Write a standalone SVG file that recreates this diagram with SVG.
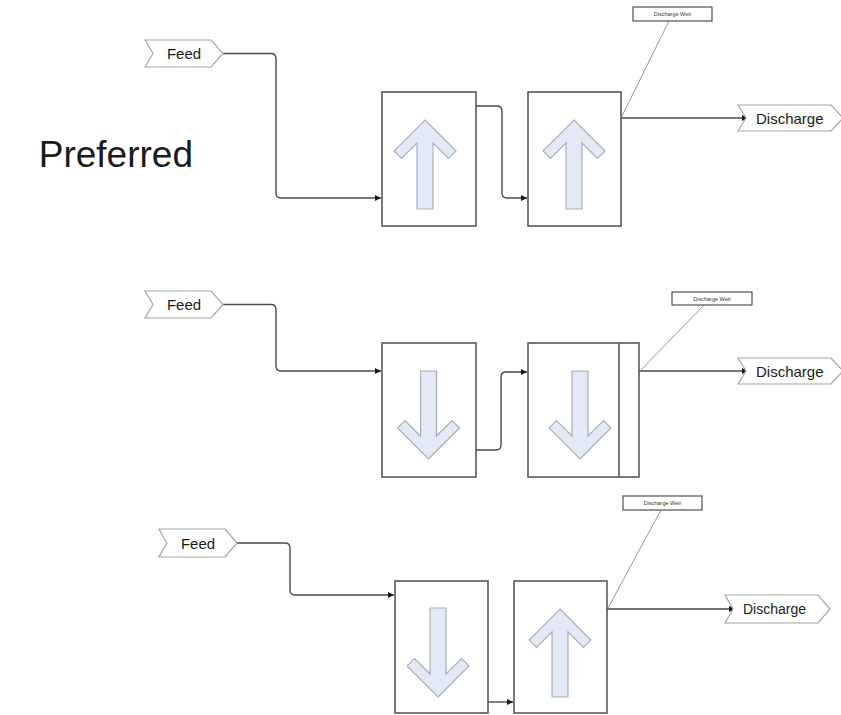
<svg xmlns="http://www.w3.org/2000/svg" width="841" height="715" viewBox="0 0 841 715">
<style>
.bg{fill:#ffffff}
.box{fill:#ffffff;stroke:#595959;stroke-width:1.6}
.blk{fill:#e4eaf5;stroke:#a9afba;stroke-width:1.2;stroke-linejoin:miter}
.chev{fill:#ffffff;stroke:#a6a6a6;stroke-width:1.2}
.con{fill:none;stroke:#4a4a4a;stroke-width:1.4}
.lead{fill:none;stroke:#8a8a8a;stroke-width:0.9}
.wbox{fill:#ffffff;stroke:#404040;stroke-width:1.1}
.t{font-family:"Liberation Sans",Arial,sans-serif;fill:#1a1a1a}
.lbl{font-size:15px}
.wt{font-size:5.5px;text-anchor:middle;fill:#333}
</style>
<defs>
<marker id="ah" markerWidth="8" markerHeight="8" refX="7" refY="4" orient="auto" markerUnits="userSpaceOnUse">
<path d="M1,1 L7,4 L1,7 Z" fill="#1a1a1a"/>
</marker>
</defs>
<rect class="bg" x="0" y="0" width="841" height="715"/>

<text id="title" class="t" x="193" y="167" font-size="37" text-anchor="end">Preferred</text>

<g id="connectors">
<path class="con" d="M223,53.5 H271 q5,0 5,5 V193 q0,5 5,5 H381" marker-end="url(#ah)"/>
<path class="con" d="M476,106 H497 q5,0 5,5 V193 q0,5 5,5 H527" marker-end="url(#ah)"/>
<path class="con" d="M621,118 H748" marker-end="url(#ah)"/>
<path class="lead" d="M669,21 L621,118"/>

<path class="con" d="M223,304.5 H271 q5,0 5,5 V366 q0,5 5,5 H381" marker-end="url(#ah)"/>
<path class="con" d="M476,450 H496 q5,0 5,-5 V377 q0,-5 5,-5 H527" marker-end="url(#ah)"/>
<path class="con" d="M619,463 H623 q5,0 5,-5 V376 q0,-5 5,-5 H748" marker-end="url(#ah)"/>
<path class="lead" d="M704,305 L640,371"/>

<path class="con" d="M237,543 H285 q5,0 5,5 V590 q0,5 5,5 H394" marker-end="url(#ah)"/>
<path class="con" d="M488,702 H513" marker-end="url(#ah)"/>
<path class="con" d="M607,609 H735" marker-end="url(#ah)"/>
<path class="lead" d="M661,510 L608,608"/>
</g>

<!-- Row 1 -->
<g id="feed1">
<path class="chev" d="M145,40 H211 L223,53.5 L211,67 H145 L153,53.5 Z"/>
<text class="t lbl" x="184" y="59" text-anchor="middle">Feed</text>
</g>
<g id="tank1a">
<rect class="box" x="382" y="92" width="94" height="134"/>
<path class="blk" d="M425,120 L456,151 L448.5,158.5 L433,143 V209 H417 V143 L401.5,158.5 L394,151 Z"/>
</g>
<g id="tank1b">
<rect class="box" x="528" y="92" width="93" height="134"/>
<path class="blk" d="M574,120 L605,151 L597.5,158.5 L582,143 V209 H566 V143 L550.5,158.5 L543,151 Z"/>
</g>
<g id="weir1">
<rect class="wbox" x="633" y="7" width="79" height="14"/>
<text class="t wt" x="672.5" y="16">Discharge Weir</text>
</g>
<g id="discharge1">
<path class="chev" d="M738,105 H831 L843,118 L831,131 H738 L746,118 Z"/>
<text class="t lbl" x="756" y="123.5">Discharge</text>
</g>

<!-- Row 2 -->
<g id="feed2">
<path class="chev" d="M145,291 H211 L223,304.5 L211,318 H145 L153,304.5 Z"/>
<text class="t lbl" x="184" y="310" text-anchor="middle">Feed</text>
</g>
<g id="tank2a">
<rect class="box" x="382" y="343" width="94" height="134"/>
<path class="blk" d="M428.5,459 L459.5,428 L452,420.5 L436.5,436 V371 H420.5 V436 L405,420.5 L397.5,428 Z"/>
</g>
<g id="tank2b">
<rect class="box" x="528" y="343" width="111" height="134"/>
<line class="box" x1="619" y1="343" x2="619" y2="477"/>
<path class="blk" d="M580,459 L611,428 L603.5,420.5 L588,436 V371 H572 V436 L556.5,420.5 L549,428 Z"/>
</g>
<g id="weir2">
<rect class="wbox" x="672" y="292" width="80" height="13"/>
<text class="t wt" x="712" y="300.5">Discharge Weir</text>
</g>
<g id="discharge2">
<path class="chev" d="M738,358 H831 L843,371 L831,384 H738 L746,371 Z"/>
<text class="t lbl" x="756" y="376.5">Discharge</text>
</g>

<!-- Row 3 -->
<g id="feed3">
<path class="chev" d="M159,529 H225 L237,543 L225,557 H159 L167,543 Z"/>
<text class="t lbl" x="198" y="548.5" text-anchor="middle">Feed</text>
</g>
<g id="tank3a">
<rect class="box" x="395" y="581" width="93" height="132"/>
<path class="blk" d="M438,697 L469,666 L461.5,658.5 L446,674 V608 H430 V674 L414.5,658.5 L407,666 Z"/>
</g>
<g id="tank3b">
<rect class="box" x="514" y="581" width="93" height="132"/>
<path class="blk" d="M560,609 L591,640 L583.5,647.5 L568,632 V697 H552 V632 L536.5,647.5 L529,640 Z"/>
</g>
<g id="weir3">
<rect class="wbox" x="623" y="496" width="79" height="14"/>
<text class="t wt" x="662.5" y="505">Discharge Weir</text>
</g>
<g id="discharge3">
<path class="chev" d="M725,595 H818 L830,609 L818,623 H725 L733,609 Z"/>
<text class="t" x="743" y="614" font-size="14">Discharge</text>
</g>
</svg>
